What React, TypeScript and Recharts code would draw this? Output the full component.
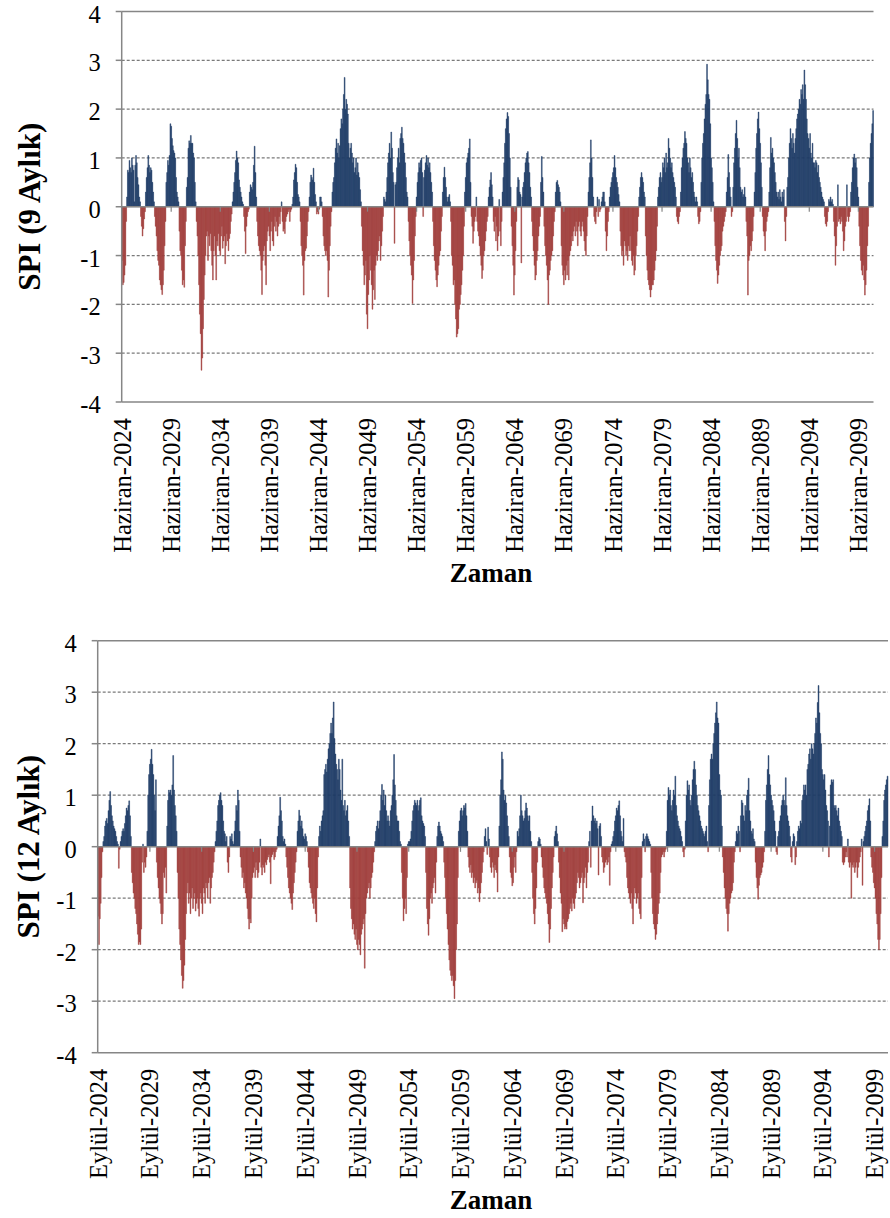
import React from 'react';
import {
  BarChart,
  Bar,
  Cell,
  XAxis,
  YAxis,
  CartesianGrid,
  ReferenceLine,
} from 'recharts';

const FONT = "'Liberation Serif', 'Times New Roman', Times, serif";
const BLUE = '#1f3d68';
const RED = '#a13f3c';
const AXIS = '#868686';
const GRID = '#7a7a7a';

const months = ['Ocak', 'Şubat', 'Mart', 'Nisan', 'Mayıs', 'Haziran', 'Temmuz', 'Ağustos', 'Eylül', 'Ekim', 'Kasım', 'Aralık'];
const yTicks = [-4, -3, -2, -1, 0, 1, 2, 3, 4];
const gridValues = [-3, -2, -1, 1, 2, 3];

// SPI 9 months, monthly from Haziran-2024
const spi9 = [
  -1.1, -1.6, -1.55, -1.4, -1.2, -0.3,
  0.2, 0.75, 0.7, 0.95, 0.8, 0.7, 1.0, 0.85, 0.75, 0.1, 0.85, 1.05, 0.9, 0.6, 0.45, 0.2, 0.1,
  -0.2, -0.4, -0.6, -0.45, -0.25, -0.1,
  0.3, 0.6, 0.8, 1.05, 0.85, 0.7, 0.8, 0.75, 0.5, 0.3, 0.1,
  -0.2, -0.4, -0.6, -0.9, -1.1, -1.2, -1.5, -1.6, -1.7, -1.8, -1.6, -1.3, -0.8, -0.3,
  0.5, 0.7, 0.95, 0.85, 1.05, 1.7, 1.65, 1.4, 1.25, 1.15, 1.1, 1.0, 0.6, 0.3, 0.2, 0.1,
  -0.5, -0.9, -1.0, -1.3, -1.6, -1.5, -1.65, -0.8, -0.3,
  0.4, 0.6, 1.2, 1.35, 1.3, 1.46, 1.3, 1.3, 1.1, 1.0, 0.5, 0.1,
  -0.3, -0.6, -1.0, -1.6, -2.2, -2.6, -3.35, -3.1, -2.5, -1.9, -1.4, -1.0, -0.6,
  -0.5, -1.1, -0.6, -0.8, -0.55, -0.9, -1.2, -1.5, -0.9, -0.6, -1.0, -1.5, -0.7, -0.8, -0.55, -0.9,
  -1.0, -0.6, -0.4, -0.85, -0.7, -0.6, -1.17, -0.8, -0.55, -0.7, -0.9, -0.65, -0.55, -0.3, -0.15,
  0.1, 0.3, 0.5, 0.7, 0.95, 1.14, 1.0, 0.9, 0.55, 0.4, 0.3, 0.2, 0.1, 0.05,
  -0.2, -0.5, -0.96, -0.4, -0.2, -0.1, -0.05,
  0.3, 0.45, 0.4, 0.35, 0.5, 0.85, 1.24, 0.7, 0.2,
  -0.3, -0.6, -0.8, -0.9, -1.0, -1.3, -1.8, -1.1, -0.9, -0.8, -1.2, -1.6, -0.7, -0.5, -0.4, -0.6,
  -0.9, -0.5, -0.3, -0.7, -0.8, -0.4, -0.2,
  -0.5, -0.3, -0.6, -0.4, -0.2, -0.35, -0.1, 0.1, -0.3, -0.5, -0.45, -0.55, -0.3, -0.2, -0.15, -0.1,
  -0.05, -0.3, -0.1, -0.05, 0.05,
  0.2, 0.55, 0.7, 0.87, 0.8, 0.5, 0.25, 0.2, 0.1,
  -0.3, -0.8, -1.0, -1.2, -1.81, -1.1, -0.9, -0.85, -0.6, -0.3, -0.1,
  0.2, 0.5, 0.65, 0.6, 0.55, 0.79, 0.5, 0.25, 0.1,
  -0.15, -0.1, -0.15, -0.05,
  0.2, 0.2, 0.1,
  -0.2, -0.6, -0.8, -0.9, -1.0, -0.9, -1.1, -1.85, -1.3, -0.8, -0.4, -0.1,
  0.3, 0.5, 0.6, 0.9, 1.2, 1.39, 1.1, 1.3, 1.0, 1.25, 1.6, 1.8, 1.7, 2.0, 2.3, 2.65, 2.0, 2.2,
  2.1, 1.9, 1.3, 1.0, 1.2, 1.3, 1.1, 0.9, 1.0, 0.7, 0.8, 1.0, 0.65, 0.9, 0.7, 0.6, 0.35, 0.1,
  -0.4, -0.9, -1.2, -1.6, -1.4, -1.1, -2.2, -2.5, -1.8, -1.5, -1.0, -1.3, -1.6, -2.1, -1.7, -1.3,
  -1.9, -1.2, -1.0, -1.1, -0.9, -0.7, -0.6, -1.1, -0.8, -0.5, -0.2,
  0.2, 0.15,
  0.1, 0.3, 0.6, 0.9, 1.1, 1.3, 1.0, 1.53, 1.2, 0.7, 0.5, -0.75, 0.45, 0.5, 0.8, 1.0, 1.2, 0.9,
  1.4, 1.5, 1.63, 1.4, 1.3, 1.1, 0.9, 0.6, 0.3, 0.2,
  -0.3, -0.7, -1.0, -1.2, -1.4, -1.98, -1.5, -1.1, -0.6, -0.2,
  0.2, 0.5, 0.7, 0.9, 0.8, 0.95, 1.0, 0.7, -0.2, 0.6, 0.75, 0.9, 1.05, 0.85, 1.0, 0.8, 0.9, 0.7, 0.5, 0.3,
  -0.3, -0.8, -1.1, -1.3, -1.5, -1.64, -1.4, -1.2, -1.0, -0.9, -0.5, -0.2,
  0.3, 0.6, 0.81, 0.6, 0.4, 0.2, 0.1, 0.2, 0.25, 0.1,
  -0.3, -1.0, -1.2, -1.6, -1.5, -2.0, -2.3, -2.67, -2.6, -2.5, -2.1, -2.0, -1.8, -1.6, -1.3, -1.0, -0.4,
  0.3, 0.6, 0.9, 1.0, 1.1, 1.2, 1.39, 0.5,
  -0.2, -0.4, -0.75, -0.5, -0.3, -0.2, 0.2, -0.3, -0.5,
  -0.6, -0.8, -1.0, -1.2, -1.47, -1.3, -1.0, -0.9, -0.7, -0.5, -0.3, -0.2,
  0.2, 0.4, 0.55, 0.7, 0.45, 0.2,
  -0.3, -0.5, -0.2, -0.7, -0.4, -0.9, -0.6, 0.15, -0.5, -0.8, -0.3,
  0.3, 0.6, 0.9, 1.3, 1.6, 1.8, 1.93, 1.85, 1.5, 1.0, 0.4,
  -0.4, -0.8, -1.2, -1.81, -1.4, -0.9, -0.3,
  0.4, 0.6, 0.55, 0.3, 0.25, -1.15, 0.2, 0.4,
  0.5, 0.7, 0.9, 1.0, 1.1, 1.13, 0.9, 0.7, 0.4, 0.2,
  -0.3, -0.6, -0.9, -1.2, -1.5, -1.4, -1.1, -0.9, -0.6, -0.4, -0.2,
  0.5, 1.03, 0.6, 0.3,
  -0.4, -0.8, -1.0, -1.2, -1.5, -2.0, -1.4, -1.3, -1.1, -1.0, -0.9, -0.6, -0.3, -0.1,
  0.3, 0.5, 0.54, 0.45, 0.4, 0.3, 0.1,
  -0.8, -1.2, -1.4, -1.6, -1.3, -1.5, -1.2, -1.4, -1.1, -1.5, -1.0, -0.9, -0.8, -0.6, -0.7, -0.5,
  -0.4, -0.6, -0.3, -0.5, -0.8, -0.4, -0.3, -0.5, -0.6, -0.4, -0.3, -0.5, -0.7, -0.9, -1.0, -0.6, -0.2,
  0.3, 0.6, 0.9, 1.37, 1.0, 0.6, 0.2,
  -0.2, -0.3, -0.35, -0.1, 0.2, -0.2, 0.15, -0.1, -0.05, 0.1, 0.2, 0.3, 0.3, 0.1, -0.5, -0.9, -0.6, -0.3, -0.1,
  0.2, 0.4, 0.5, 0.6, 0.7, 0.8, 1.05, 0.8, 0.6, 0.5, 0.4, 0.25, 0.1,
  -0.5, -0.8, -1.0, -0.9, -1.2, -0.7, -0.8, -1.0, -0.9, -1.1, -0.8, -0.9, -0.6, -0.9, -1.1, -1.2,
  -1.0, -1.4, -1.3, -1.0, -0.8, -0.5, -0.2,
  0.2, 0.4, 0.6, 0.7, 0.6, 0.5, 0.3, 0.2,
  -0.6, -1.0, -1.3, -1.5, -1.6, -1.7, -1.85, -1.7, -1.6, -1.6, -1.5, -1.3, -1.1, -0.9, -0.4,
  0.2, 0.4, 0.6, 0.7, 0.5, 0.6, 0.9, 0.8, 1.0, 0.7, 1.1, 0.8, 0.9, 1.4, 1.2, 1.0, 0.8, 0.9, 0.7,
  0.6, 0.5, 0.4, 0.2,
  -0.2, -0.3, -0.35, -0.2, -0.1,
  0.3, 0.8, 1.0, 1.2, 1.3, 1.54, 1.4, 1.3, 1.0, 0.9, 0.7, 1.0, 0.8, 0.6, 0.7, 0.5, 0.3, 0.2, 0.1, 0.2, 0.1,
  -0.2, -0.35, -0.3, -0.1,
  0.5, 1.0, 1.3, 1.5, 1.8, 2.1, 2.3, 2.92, 2.6, 2.3, 2.2, 1.7, 1.0, 0.8, 0.5, 0.1,
  -0.3, -0.8, -1.1, -1.3, -1.57, -1.4, -1.2, -1.0, -0.9, -0.8, -0.5, -0.4, -0.3, -0.2, -0.1,
  0.3, 0.6, 1.07, 0.7, 0.4, 0.2,
  -0.2, -0.1,
  0.4, 0.9, 1.2, 1.5, 1.77, 1.4, 1.0, 1.2, 0.8, 0.4, 0.3, 0.35, 0.2, 0.25, 0.4, 0.2,
  -0.3, -0.6, -1.81, -1.1, -1.0, -0.8, -0.9, -0.7, -0.5, -0.2,
  0.3, 0.7, 1.2, 1.5, 1.8, 1.94, 1.6, 1.3, 0.9, 0.4,
  -0.2, -0.5, -0.6, -0.9, -0.5, -0.3, -0.2, -0.1,
  0.3, 0.8, 1.42, 1.1, 1.2, 1.0, 0.9, 0.7, 0.5, 0.3,
  0.2, 0.3, 0.15, 0.35, 0.2, 0.1, 0.3, 0.2, 0.35,
  -0.3, -0.7, -0.2,
  0.4, 0.6, 1.0, 1.3, 1.6, 1.4, 1.2, 1.5, 1.3, 1.1, 1.4, 1.6, 1.8, 1.9, 2.0, 2.2, 2.1, 2.4, 2.3,
  2.5, 2.2, 2.8, 2.5, 2.2, 1.8, 1.5, 1.4, 1.2, 1.5, 1.1, 1.0, 1.3, 0.9,
  0.9, 0.8, 0.95, 0.9, 0.7, 0.85, 0.6, 0.5, 0.4, 0.3, 0.2, 0.15, 0.1,
  -0.2, -0.35, -0.4, -0.3, -0.1,
  0.15, 0.1, 0.2, 0.1, 0.15, 0.05,
  -0.3, -0.6, -1.2, -0.8, -0.4, 0.45, -0.3, -0.25, -0.35, -0.2, -0.3, -0.5, -0.9, -0.7, -0.4, -0.3,
  0.45, -0.2, -0.3, -0.2, -0.1,
  0.3, 0.5, 0.8, 1.0, 1.08, 0.9, 1.0, 0.8, 0.4, 0.2,
  -0.4, -0.8, -1.1, -1.3, -1.4, -1.2, -1.5, -1.81, -1.6, -1.3, -0.8, -0.4,
  0.5, 1.0, 1.3, 1.5, 1.7, 1.97,
];

// SPI 12 months, monthly from Eylül-2024
const spi12 = [
  -1.35, -1.9, -1.4, -1.1, -0.6, -0.1,
  0.1, 0.2, 0.4, 0.5, 0.55, 0.45, 0.7, 0.9, 1.07, 0.8, 0.6, 0.5, 0.4, 0.35, 0.3, 0.2, 0.1,
  0.05, -0.42, -0.05, 0.1,
  0.2, 0.3, 0.35, 0.3, 0.45, 0.6, 0.75, 0.7, 0.8, 0.89, 0.6, 0.2,
  -0.5, -0.7, -0.9, -1.0, -1.2, -1.3, -1.5, -1.7, -1.9, -1.85, -1.9, -1.6, -0.3, 0.05,
  -0.5, -0.3, -0.4, -0.2,
  0.3, 1.0, 1.4, 1.6, 1.7, 1.89, 1.6, 1.4, 1.0, 0.7, 1.3,
  -0.3, -0.6, -0.8, -1.0, -1.1, -1.3, -1.5, -1.3, -0.5, -0.6, -0.4, -0.9,
  0.4, 0.9, 1.1, 1.05, 1.1, 1.0, 1.2, 1.77, 1.1, 0.8, 0.6, 0.3,
  -0.5, -1.0, -1.6, -1.9, -2.2, -2.5, -2.75, -2.6, -2.3, -1.8, -1.3, -0.9,
  -0.7, -1.1, -0.9, -1.3, -1.0, -0.8, -1.2, -1.0, -0.9, -1.25, -1.1, -1.0,
  -1.2, -1.35, -1.0, -0.9, -1.1, -1.3, -0.8, -0.9, -1.1, -0.7, -0.8,
  -1.0, -0.7, -0.6, -1.1, -0.8, -0.6, -0.5, -0.3, -0.1,
  0.1, 0.3, 0.5, 0.8, 0.9, 1.0, 1.05, 0.9, 0.8, 0.5, 0.3, 0.25, 0.1, 0.2,
  -0.3, -0.5, -0.2,
  0.2, 0.15, 0.25, 0.1, 0.05, 0.3, 0.5, 0.8, 0.7, 1.1, 0.9, 0.3,
  -0.2, -0.4, -0.6, -0.5, -0.8, -0.7, -0.9, -1.0, -1.2, -1.4, -1.6, -1.4, -1.48, -1.0, -0.6, -0.5, -0.4, -0.6,
  -0.3, -0.45, -0.6, -0.5, -0.3, 0.15, -0.4, -0.55, -0.35, -0.4, -0.5, -0.3, -0.35, -0.25, -0.2, -0.15,
  -0.3, -0.72, -0.2, -0.15, -0.1, -0.25, -0.2, -0.1, -0.05,
  0.2, 0.4, 0.6, 0.96, 0.7, 0.5, 0.2, 0.1, 0.15, 0.05,
  -0.2, -0.4, -0.6, -0.8, -0.9, -1.0, -1.1, -1.22, -0.9, -0.7, -0.5, -0.3, -0.1,
  0.3, 0.5, 0.71, 0.6, 0.4, 0.5, 0.35, 0.2, 0.15, 0.25, 0.2, 0.1,
  -0.1, -0.4, -0.7, -0.8, -0.9, -1.0, -1.1, -1.2, -1.0, -1.3, -1.46, -0.8, -0.2,
  0.2, 0.4, 0.3, 0.5, 0.6, 0.7, 1.4, 1.5, 1.6, 1.45, 1.7, 1.9, 2.0, 2.2, 2.4, 2.2, 2.5, 2.81,
  2.1, 1.8, 1.6, 1.5, 1.3, 1.7, 1.5, 1.1, 0.9, 1.7, 0.8, 0.7, 0.9, 0.6, 0.7, 0.8, 0.5, 0.2,
  -0.8, -1.2, -1.4, -1.6, -1.5, -1.7, -1.8, -1.6, -1.9, -2.0, -1.8, -1.9, -2.1, -1.7, -1.6,
  -1.5, -1.4, -2.36, -1.3, -1.0, -0.9, -0.8, -0.7, -1.0, -0.8, -0.6, -0.5, -0.3, -0.1,
  0.1, 0.3, 0.4, 0.5, 0.35, 0.5, 0.7, 1.0, 1.21, 0.9, 1.1, 0.8, 1.0, 0.7, 0.5, 0.6, 0.5,
  0.4, 0.7, 0.8, 1.0, 1.3, 1.79, 1.2, 0.9, 0.6, 0.5, 0.5, 0.3, 0.1, 0.05,
  -0.5, -1.0, -1.44, -1.2, -1.0, -1.3, -0.6,
  0.05, 0.1, 0.1, 0.15, 0.3, 0.5, 0.7, 0.8, 0.9, 0.85, 0.8, 0.9, 0.7, 0.8, 0.9, 0.95, 0.6, 0.5, 0.45, 0.4, 0.2,
  -0.5, -1.2, -1.5, -1.72, -1.4, -1.0, -0.9, -1.1, -0.8, -0.7, -0.6, -0.9, -0.3,
  0.2, 0.4, 0.48, 0.4, 0.3, 0.25, 0.2, 0.1,
  -0.3, -0.6, -1.0, -1.3, -1.6, -1.9, -2.2, -2.4, -2.5, -2.6, -2.5, -2.7, -2.95, -2.6, -2.0, -1.5, -0.6,
  0.3, 0.5, 0.7, 0.75, 0.6, 0.7, 0.8, 0.75, 0.84, 0.6, 0.3,
  -0.2, -0.4, -0.5, -0.35, -0.6, -0.5, -0.7, -0.6, -0.8, -0.7, -0.65, -0.9, -0.8, -1.07, -0.9, -0.7, -0.5, -0.3, -0.1,
  0.2, 0.35, 0.1, -0.15, 0.38, 0.15,
  -0.2, -0.4, -0.5, -0.3, -0.4, -0.6, -0.35, -0.45, -0.5, -0.88, -0.2,
  0.4, 1.0, 1.3, 1.84, 1.7, 1.1, 0.9, 1.0, 0.85, 0.6, 0.4, 0.2,
  -0.2, -0.5, -0.6, -0.76, -0.7, -0.4, -0.2, -0.5, -0.1,
  0.3, 0.2, 0.35, 0.6, 1.0, 0.7, 0.6, 0.5, 0.55, 0.7, 0.85, 0.75, 0.6, 0.5, 0.6, 0.3, 0.1,
  -0.5, -1.0, -1.3, -1.5, -1.2, -0.8, -0.3,
  0.1, 0.18, 0.15, 0.05,
  -0.2, -0.4, -0.6, -0.8, -0.9, -1.0, -1.1, -1.3, -1.5, -1.86, -1.6, -1.2, -0.8, -0.5, -0.2,
  0.2, 0.3, 0.4, 0.25, 0.1,
  -0.3, -0.6, -0.9, -1.1, -1.65, -1.4, -1.5, -1.6, -1.55, -1.6, -1.45, -1.4, -1.3, -1.2, -1.1, -1.25,
  -1.0, -1.1, -1.2, -1.0, -0.9, -0.7, -0.5, -0.6, -0.8, -0.7, -0.6, -0.5, -1.09, -0.7, -0.6, -0.4, -0.8, -0.5, -0.3,
  0.1, 0.3, -0.4, 0.5, 0.79, 0.6, 0.5, 0.55, 0.45, 0.5, 0.35, -0.55, 0.4, 0.45, 0.2,
  -0.2, -0.3, -0.5, -0.4, -0.3, -0.25, -0.35, -0.3, -0.2, -0.75, -0.1,
  0.05, 0.1, 0.2, 0.3, 0.5, 0.6, 0.75, 0.7, 0.8, 0.89, 0.6, 0.3, 0.2, 0.1, 0.55,
  -0.1, -0.2, -0.3, -0.6, -0.8, -0.9, -1.0, -1.1, -0.9, -1.2, -1.5, -1.0, -0.8, -0.9, -1.1, -1.0,
  -0.9, -1.2, -1.3, -1.4, -0.6,
  0.1, 0.25, 0.15, -0.1, 0.2, 0.25, 0.2, 0.15, 0.1, 0.05,
  -0.5, -1.0, -1.3, -1.5, -1.6, -1.8, -1.7, -1.5, -1.3, -1.1, -0.9, -0.5, -0.2,
  -0.15, -0.1, -0.2, -0.1, -0.05,
  0.3, 0.9, 1.15, 1.0, 1.1, 0.8, 0.7, 0.9, 1.1, 1.0, 1.37, 0.8, 0.6, 0.5, 0.4, 0.35, 0.3, 0.2, 0.1,
  -0.1, -0.2, -0.05,
  0.5, 1.0, 1.28, 1.1, 1.2, 0.9, 0.8, 1.0, 1.3, 1.5, 1.66, 1.5, 1.2, 1.0, 0.8, 0.7, 0.6, 0.5,
  0.4, 0.35, 0.3, 0.25, 0.2, 0.3, 0.4, 0.1,
  -0.1, 0.8, 1.3, 1.7, 1.8, 1.7, 2.0, 2.2, 2.4, 2.6, 2.81, 2.5, 2.4, 1.4, 1.1, 1.0, 0.4,
  -0.2, -0.5, -0.8, -1.0, -1.2, -1.3, -1.64, -1.3, -1.1, -1.0, -0.9, -0.85, -0.7, -0.3, -0.1,
  0.1, 0.3, 0.25, 0.4, 0.3, -0.1, 0.6, 0.9, 0.85, 0.6, 0.5, 0.8, 0.7, 1.0, 1.1, 1.33, 0.7, 0.5,
  0.3, 0.25, 0.35, 0.15, 0.1,
  -0.3, -0.6, -0.8, -1.02, -0.75, -0.6, -0.55, -0.5, -0.4, -0.3, -0.1,
  0.3, 0.9, 1.2, 1.5, 1.77, 1.4, 1.2, 1.0, 0.9, 0.8, 0.7, 0.5, 0.3,
  -0.1, -0.15,
  0.2, 0.3, 0.5, 0.6, 0.8, 0.9, 1.0, 0.9, 0.8, 1.34, 0.8, 0.6, 0.5, 0.4, 0.2,
  -0.2, -0.3, 0.1, 0.25, 0.2, -0.35, -0.2, 0.1,
  0.3, 0.4, 0.35, 0.5, 0.45, 0.9, 1.0, 1.2, 1.1, 1.2, 1.0, 1.5, 1.6, 1.8, 1.9, 1.7, 2.0, 1.9,
  1.8, 2.0, 2.2, 2.5, 2.4, 2.8, 3.13, 2.6, 2.2, 2.0, 1.5, 1.4, 1.3, 1.4, 1.1, 0.8, 0.7, 0.5,
  -0.2, 0.4, 1.2, 1.3, 1.25, 1.3, 0.8, 0.75, 0.8, 0.7, 0.6, 0.75, 0.5, 0.4, 0.3, 0.2,
  -0.3, -0.35, -0.3, -0.2, -0.1,
  -0.2, 0.15, -0.3, -0.4, -0.3, -1.0, -0.35, -0.4, -0.3, -0.5, -0.4, -0.3, -0.6, -0.4, -0.3, -0.2,
  -0.1, 0.15, -0.75,
  0.1, 0.2, 0.3, 0.4, 0.5, 0.7, 0.8, 0.93, 0.5,
  -0.2, -0.4, -0.5, -0.7, -0.8, -1.0, -1.3, -1.5, -1.8, -2.0, -1.8, -1.3, -0.6,
  0.2, 0.5, 0.9, 1.1, 1.2, 1.3, 1.37,
];

const monthLabel = (startMonth: number, i: number) => {
  const k = startMonth + i;
  return `${months[k % 12]}-${2024 + Math.floor(k / 12)}`;
};

const RotatedTick = (props: any) => {
  const { x, y, payload } = props;
  return (
    <text
      x={x}
      y={y}
      transform={`rotate(-90, ${x}, ${y})`}
      textAnchor="end"
      dy="0.35em"
      fontFamily={FONT}
      fontSize={24.5}
      fill="#000"
    >
      {payload.value}
    </text>
  );
};

const ValueTick = (props: any) => {
  const { x, y, payload } = props;
  return (
    <text
      x={x}
      y={y + 2.5}
      textAnchor="end"
      dy="0.35em"
      fontFamily={FONT}
      fontSize={24.5}
      fill="#000"
    >
      {payload.value}
    </text>
  );
};

type PanelProps = {
  values: number[];
  startMonth: number;
  yTitle: string;
  top: number;
  height: number;
  margin: { top: number; right: number; bottom: number; left: number };
  yAxisWidth: number;
  xAxisHeight: number;
  titleY: number;
};

const SpiPanel = ({ values, startMonth, yTitle, top, height, margin, yAxisWidth, xAxisHeight, titleY }: PanelProps) => {
  const data = values.map((v, i) => ({ label: monthLabel(startMonth, i), spi: v }));
  const majorTicks = data.filter((_, i) => i > 0 && i % 60 === 0).map((d) => d.label);

  return (
    <div style={{ position: 'absolute', left: 0, top }}>
      <BarChart width={890} height={height} data={data} margin={margin} barCategoryGap={0} barGap={0}>
        <CartesianGrid
          vertical={false}
          horizontalValues={gridValues}
          stroke={GRID}
          strokeDasharray="3 2"
          strokeWidth={1.2}
        />
        <XAxis
          dataKey="label"
          interval={59}
          height={xAxisHeight}
          tickSize={0}
          tickMargin={16}
          tickLine={false}
          axisLine={{ stroke: AXIS, strokeWidth: 1.5 }}
          tick={<RotatedTick />}
          label={() => (
            <text
              x={491}
              y={titleY}
              textAnchor="middle"
              dominantBaseline="central"
              fontFamily={FONT}
              fontWeight="bold"
              fontSize={27}
              fill="#000"
            >
              Zaman
            </text>
          )}
        />
        <YAxis
          domain={[-4, 4]}
          ticks={yTicks}
          interval={0}
          allowDataOverflow
          width={yAxisWidth}
          tickSize={6}
          tickMargin={15}
          tickLine={{ stroke: AXIS, strokeWidth: 1.5 }}
          axisLine={{ stroke: AXIS, strokeWidth: 1.5 }}
          tick={<ValueTick />}
          label={(p: any) => {
            const vb = p.viewBox || p;
            const cy = vb.y + vb.height / 2;
            return (
              <text
                x={29}
                y={cy}
                transform={`rotate(-90, 29, ${cy})`}
                textAnchor="middle"
                dominantBaseline="central"
                fontFamily={FONT}
                fontWeight="bold"
                fontSize={31}
                fill="#000"
              >
                {yTitle}
              </text>
            );
          }}
        />
        <YAxis
          yAxisId="r"
          orientation="right"
          width={0}
          domain={[-4, 4]}
          tick={false}
          tickLine={false}
          axisLine={{ stroke: AXIS, strokeWidth: 1.5 }}
        />
        <ReferenceLine y={4} stroke={AXIS} strokeWidth={1.5} />
        <Bar dataKey="spi" isAnimationActive={false}>
          {data.map((d, i) => {
            const c = d.spi >= 0 ? BLUE : RED;
            return <Cell key={i} fill={c} stroke={c} strokeWidth={0.45} />;
          })}
        </Bar>
        <ReferenceLine y={0} stroke={AXIS} strokeWidth={1.5} />
        {majorTicks.map((l) => (
          <ReferenceLine
            key={l}
            segment={[{ x: l, y: 0 }, { x: l, y: -0.1 }]}
            stroke={AXIS}
            strokeWidth={1.2}
          />
        ))}
      </BarChart>
    </div>
  );
};

export default function App() {
  return (
    <div style={{ position: 'absolute', left: 0, top: 0, width: 890, height: 1218, background: '#fff' }}>
      <SpiPanel
        values={spi9}
        startMonth={5}
        yTitle="SPI (9 Aylık)"
        top={0}
        height={600}
        margin={{ top: 11.5, right: 16.5, bottom: 28, left: 0 }}
        yAxisWidth={121.7}
        xAxisHeight={170}
        titleY={573}
      />
      <SpiPanel
        values={spi12}
        startMonth={8}
        yTitle="SPI (12 Aylık)"
        top={620}
        height={598}
        margin={{ top: 20.7, right: 2, bottom: 15.3, left: 0 }}
        yAxisWidth={97.7}
        xAxisHeight={150}
        titleY={580}
      />
    </div>
  );
}
